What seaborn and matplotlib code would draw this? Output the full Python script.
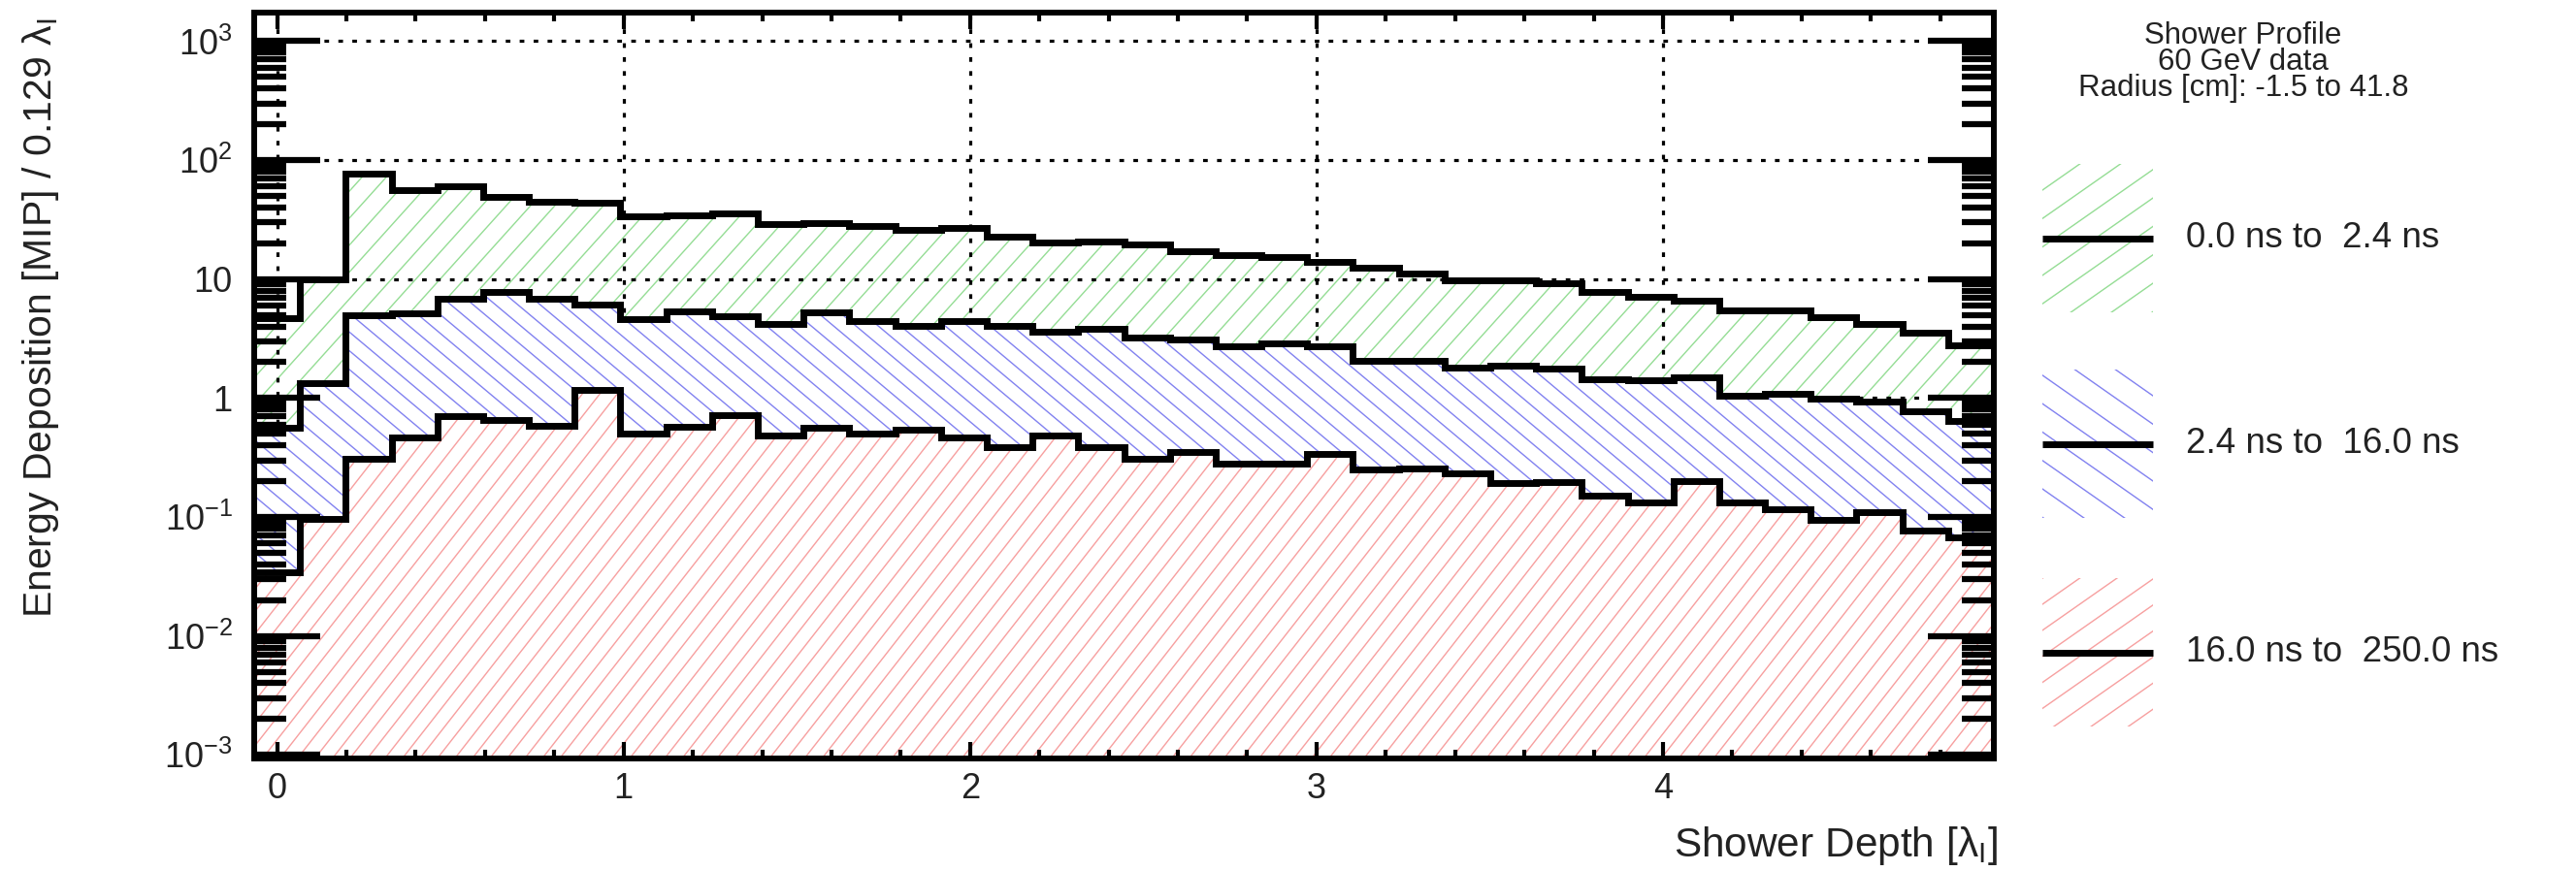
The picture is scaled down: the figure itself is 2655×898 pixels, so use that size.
import numpy as np
import pandas as pd
import matplotlib
matplotlib.use("Agg")
import matplotlib.pyplot as plt
import seaborn as sns
from matplotlib.collections import LineCollection
from matplotlib.patches import Rectangle
from matplotlib.transforms import IdentityTransform
from matplotlib.ticker import MultipleLocator, LogLocator, FuncFormatter, NullFormatter, FixedLocator

# ---------------- data ----------------
X_MIN, X_MAX, N_BINS = -0.066, 4.955, 38
Y_MIN, Y_MAX = 10 ** -3.03, 10 ** 3.24

prompt_0_2p4 = [4.7, 10, 77, 56, 60, 49, 45, 44, 34, 34.5,
                35.8, 29, 29.5, 27.9, 26, 26.8, 22.7, 20.4, 20.6, 19.4,
                17.1, 16.0, 15.3, 14.0, 12.5, 11.2, 9.85, 9.85, 9.2, 7.8,
                7.1, 6.6, 5.5, 5.5, 4.8, 4.2, 3.56, 2.75]
mid_2p4_16 = [0.56, 1.33, 5.0, 5.2, 6.8, 7.8, 6.8, 6.1, 4.6, 5.4,
              4.9, 4.2, 5.3, 4.4, 4.05, 4.4, 4.05, 3.6, 3.85, 3.2,
              3.1, 2.7, 2.9, 2.7, 2.06, 2.06, 1.79, 1.87, 1.77, 1.44,
              1.41, 1.48, 1.05, 1.08, 0.99, 0.93, 0.77, 0.64]
late_16_250 = [0.034, 0.097, 0.31, 0.47, 0.70, 0.66, 0.58, 1.16, 0.50, 0.57,
               0.72, 0.48, 0.56, 0.50, 0.54, 0.47, 0.39, 0.48, 0.39, 0.31,
               0.35, 0.28, 0.28, 0.34, 0.25, 0.257, 0.234, 0.194, 0.197, 0.151,
               0.133, 0.2, 0.133, 0.117, 0.094, 0.11, 0.077, 0.067]

series_labels = ["0.0 ns to  2.4 ns", "2.4 ns to  16.0 ns", "16.0 ns to  250.0 ns"]
legend_title = ["Shower Profile", "60 GeV data", "Radius [cm]: -1.5 to 41.8"]
x_ticks = [0, 1, 2, 3, 4]

# ---------------- style ----------------
W_PX, H_PX, DPI = 2655, 898, 100
sns.set_theme(style="ticks")
plt.rcParams["font.family"] = ["Liberation Sans", "DejaVu Sans"]
plt.rcParams["mathtext.fontset"] = "custom"
plt.rcParams["mathtext.rm"] = "Liberation Sans"
plt.rcParams["mathtext.it"] = "Liberation Sans:italic"
plt.rcParams["mathtext.bf"] = "Liberation Sans:bold"

TEXT_COLOR = "#222222"
HATCH_COLORS = ["#95dd95", "#8282f0", "#f7a0a0"]
HATCH_ANGLES = [48, -40, 52]
HATCH_SPACING = [18.6, 14.8, 14.2]     # perpendicular spacing, px
LEG_ANGLES = [35, -35, 35]
LEG_SPACING = [24, 24, 22]
HATCH_LW = 1.4 * 72 / DPI

fig = plt.figure(figsize=(W_PX / DPI, H_PX / DPI), dpi=DPI)
fig.patch.set_facecolor("white")

# axes frame position in pixels
L_PX, R_PX, T_PX, B_PX = 262, 2055, 13, 782
pos = [L_PX / W_PX, 1 - B_PX / H_PX, (R_PX - L_PX) / W_PX, (B_PX - T_PX) / H_PX]
ax = fig.add_axes(pos)
ax.set_yscale("log")


def add_hatch(target_ax, clip_path, clip_trans, bbox, angle, spacing, color, z, clip_box=None):
    a = np.deg2rad(angle)
    d = np.array([np.cos(a), np.sin(a)])
    n = np.array([-np.sin(a), np.cos(a)])
    cx, cy = (bbox.x0 + bbox.x1) / 2, (bbox.y0 + bbox.y1) / 2
    Lh = np.hypot(bbox.width, bbox.height)
    segs = []
    for c in np.arange(-Lh, Lh, spacing):
        p = np.array([cx, cy]) + c * n
        segs.append([p - Lh * d, p + Lh * d])
    lc = LineCollection(segs, colors=color, linewidths=HATCH_LW,
                        transform=IdentityTransform(), zorder=z)
    lc.set_clip_path(clip_path, clip_trans)
    target_ax.add_collection(lc, autolim=False)
    lc.set_clip_path(clip_path, clip_trans)
    if clip_box is not None:
        lc.set_clip_box(clip_box)
    return lc


edges = np.linspace(X_MIN, X_MAX, N_BINS + 1)
centers = 0.5 * (edges[:-1] + edges[1:])
df = pd.DataFrame({
    "depth": np.tile(centers, 3),
    "energy": np.concatenate([prompt_0_2p4, mid_2p4_16, late_16_250]),
    "window": np.repeat(series_labels, N_BINS),
})

for i, lab in enumerate(series_labels):
    sub = df[df["window"] == lab]
    z = 1.0 + i
    sns.histplot(data=sub, x="depth", weights="energy", bins=N_BINS,
                 binrange=(X_MIN, X_MAX), element="step",
                 fill=True, stat="count", facecolor="white", edgecolor="none",
                 linewidth=0, alpha=1, ax=ax, zorder=z)
    poly = ax.collections[-1]
    add_hatch(ax, poly.get_paths()[0], ax.transData, ax.bbox, HATCH_ANGLES[i],
              HATCH_SPACING[i], HATCH_COLORS[i], z + 0.05, clip_box=ax.bbox)

for i, lab in enumerate(series_labels):
    sub = df[df["window"] == lab]
    sns.histplot(data=sub, x="depth", weights="energy", bins=N_BINS,
                 binrange=(X_MIN, X_MAX), element="step",
                 fill=False, stat="count", color="black", linewidth=5, alpha=1,
                 ax=ax, zorder=4, solid_joinstyle="miter", solid_capstyle="butt")

ax.set_xlim(X_MIN, X_MAX)
ax.set_ylim(Y_MIN, Y_MAX)
ax.xaxis.label.set_visible(False)
ax.yaxis.label.set_visible(False)
ax.xaxis.offsetText.set_visible(False)
ax.yaxis.offsetText.set_visible(False)
ax.set_axisbelow("line")
ax.grid(True, which="major", color="black", linestyle=(0, (1.5, 3.0)), linewidth=2.3)
ax.tick_params(which="both", length=0, labelbottom=False, labelleft=False)
for s in ax.spines.values():
    s.set_visible(False)

# overlay axes for frame and ticks
ax2 = fig.add_axes(pos, sharex=ax, sharey=ax, zorder=10)
ax2.patch.set_visible(False)
ax2.grid(False)
ax2.xaxis.set_major_locator(FixedLocator(x_ticks))
ax2.xaxis.set_minor_locator(MultipleLocator(0.2))
ax2.yaxis.set_major_locator(LogLocator(base=10, numticks=20))
ax2.yaxis.set_minor_locator(LogLocator(base=10, subs=np.arange(2, 10), numticks=20))
ax2.yaxis.set_minor_formatter(NullFormatter())
ax2.xaxis.offsetText.set_visible(False)
ax2.yaxis.offsetText.set_visible(False)


def yfmt(v, p):
    e = int(round(np.log10(v)))
    if e == 0:
        return "1"
    if e == 1:
        return "10"
    return r"$\mathregular{10^{%d}}$" % e


ax2.yaxis.set_major_formatter(FuncFormatter(yfmt))
ax2.xaxis.set_major_formatter(FuncFormatter(lambda v, p: "%d" % v))
ax2.tick_params(which="both", direction="in", top=True, right=True, bottom=True,
                left=True, colors="black", labelcolor=TEXT_COLOR)
ax2.tick_params(axis="x", which="major", length=12, width=3, labelsize=26, pad=10)
ax2.tick_params(axis="x", which="minor", length=6.5, width=3)
ax2.tick_params(axis="y", which="major", length=49, width=4.5, labelsize=26, pad=16)
ax2.tick_params(axis="y", which="minor", length=24, width=4.5)
for s in ax2.spines.values():
    s.set_visible(True)
    s.set_linewidth(4.3)
    s.set_color("black")

ax2.set_ylabel("Energy Deposition [MIP] / 0.129 λ$_\\mathregular{I}$", fontsize=29.5,
               loc="top", color=TEXT_COLOR)
ax2.yaxis.set_label_coords(-0.111, 0.993)
ax2.set_xlabel("Shower Depth [λ$_\\mathregular{I}$]", fontsize=30.5, loc="right",
               color=TEXT_COLOR)
ax2.xaxis.set_label_coords(1.002, -0.089)

# ---------------- legend ----------------
axl = fig.add_axes([0, 0, 1, 1], zorder=20)
axl.set_xlim(0, W_PX)
axl.set_ylim(H_PX, 0)
axl.axis("off")
axl.patch.set_visible(False)

for k, t in enumerate(legend_title):
    axl.text(2312, 37 + 27 * k, t, ha="center", va="center", fontsize=22.5, color=TEXT_COLOR)

box_tops = [169, 381, 596]
box_h = 153
fig.canvas.draw()
for i, lab in enumerate(series_labels):
    rect = Rectangle((2105, box_tops[i]), 114, box_h, facecolor="none", edgecolor="none")
    axl.add_patch(rect)
    bb = rect.get_window_extent()
    add_hatch(axl, rect.get_path(), rect.get_transform(), bb, LEG_ANGLES[i],
              LEG_SPACING[i], HATCH_COLORS[i], 1)
    ymid = box_tops[i] + box_h / 2
    axl.plot([2105, 2219], [ymid, ymid], color="black", linewidth=5, solid_capstyle="butt")
    axl.text(2253, ymid, lab, ha="left", va="center", fontsize=26.5, color=TEXT_COLOR)

fig.savefig("out.png", dpi=DPI, facecolor="white")
